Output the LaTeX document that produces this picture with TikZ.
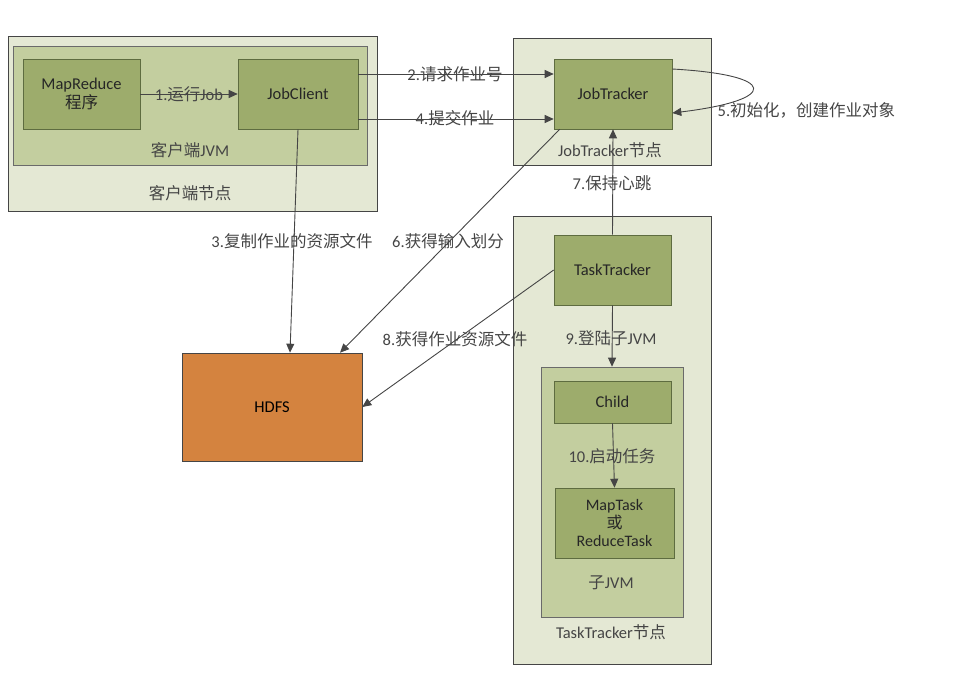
\documentclass[tikz,border=0pt]{standalone}
\usepackage{fontspec}
\setmainfont{Carlito}
\newfontfamily\cjk{Noto Sans CJK SC}
\newcommand\zh[1]{{\cjk #1}}
\usetikzlibrary{arrows.meta}
\definecolor{hostbg}{HTML}{E4E8D4}
\definecolor{jvmbg}{HTML}{C3CE9F}
\definecolor{procbg}{HTML}{9DAC6C}
\definecolor{procline}{HTML}{5E6C40}
\definecolor{hdfsbg}{HTML}{D4833F}
\definecolor{linec}{HTML}{454545}
\definecolor{textc}{HTML}{454545}
\begin{document}
\begin{tikzpicture}[x=1pt,y=-1pt,semithick,
    font=\fontsize{16.5}{19}\selectfont,
    host/.style={draw=linec,fill=hostbg,minimum width=#1},
    jvm/.style={draw=linec!80,fill=jvmbg},
    proc/.style={draw=procline,fill=procbg,text=black!85,align=center},
    lbl/.style={text=textc},
    flow/.style={draw=linec,line width=0.9pt,-{Triangle[length=9pt,width=8pt]}}]
    \useasboundingbox(0,0)rectangle(966,687);
    % client side
    \node[host=369pt,minimum height=175pt](client)at(192.5,123.5){};
    \node[jvm,minimum width=354pt,minimum height=119pt](cjvm)at(190,105.5){};
    \node[proc,minimum width=117pt,minimum height=70pt](mr)at(81.5,94){MapReduce\\\zh{程序}};
    \node[proc,minimum width=120pt,minimum height=70pt](jc)at(298,94){JobClient};
    \node[lbl](cjvmtxt)at(190,150){\zh{客户端}JVM};
    \node[lbl](clienttxt)at(190,193){\zh{客户端节点}};
    % jobtracker side
    \node[host=198pt,minimum height=127pt](jtnode)at(612,101.5){};
    \node[proc,minimum width=118pt,minimum height=70pt](jt)at(613,94){JobTracker};
    \node[lbl](jtnodetxt)at(610,150){JobTracker\zh{节点}};
    % tasktracker side
    \node[host=198pt,minimum height=448pt](ttnode)at(612,440){};
    \node[proc,minimum width=117pt,minimum height=70pt](tt)at(612.5,270){TaskTracker};
    \node[jvm,minimum width=142pt,minimum height=250pt](subjvm)at(612,492){};
    \node[proc,minimum width=117pt,minimum height=42pt](child)at(612.5,402){Child};
    \node[proc,minimum width=119pt,minimum height=70pt,font=\fontsize{16}{18}\selectfont](task)at(614.5,523){MapTask\\\zh{或}\\ReduceTask};
    \node[lbl](subjvmtxt)at(611,583){\zh{子}JVM};
    \node[lbl](ttnodetxt)at(611,632){TaskTracker\zh{节点}};
    % hdfs
    \node[draw=linec,fill=hdfsbg,minimum width=180pt,minimum height=108pt](hdfs)at(272,407){HDFS};
    % flows
    \draw[flow](mr)--(jc);
    \node[lbl]at(189,94){1.\zh{运行}Job};
    \draw[flow]([yshift=20pt]jc.east)--([yshift=20pt]jt.west);
    \node[lbl]at(455,74){2.\zh{请求作业号}};
    \draw[flow]([yshift=-25pt]jc.east)--([yshift=-25pt]jt.west);
    \node[lbl]at(455,118){4.\zh{提交作业}};
    \draw[flow]([yshift=25pt]jt.east)..controls +(107,6) and +(107,-13)..([yshift=-19pt]jt.east);
    \node[lbl,anchor=west]at(714,110){5.\zh{初始化，创建作业对象}};
    \draw[flow](jc.south)--([xshift=18pt]hdfs.north);
    \node[lbl]at(292,241){3.\zh{复制作业的资源文件}};
    \draw[flow]([xshift=6pt]jt.south west)--([xshift=68pt]hdfs.north);
    \node[lbl]at(448,241){6.\zh{获得输入划分}};
    \draw[flow](tt.north)--(jt.south);
    \node[lbl]at(612,183){7.\zh{保持心跳}};
    \draw[flow](tt.west)--(hdfs.east);
    \node[lbl]at(455,339){8.\zh{获得作业资源文件}};
    \draw[flow](tt.south)--(subjvm.north);
    \node[lbl]at(611,338){9.\zh{登陆子}JVM};
    \draw[flow](child.south)--(task.north);
    \node[lbl]at(612,456){10.\zh{启动任务}};
\end{tikzpicture}
\end{document}
